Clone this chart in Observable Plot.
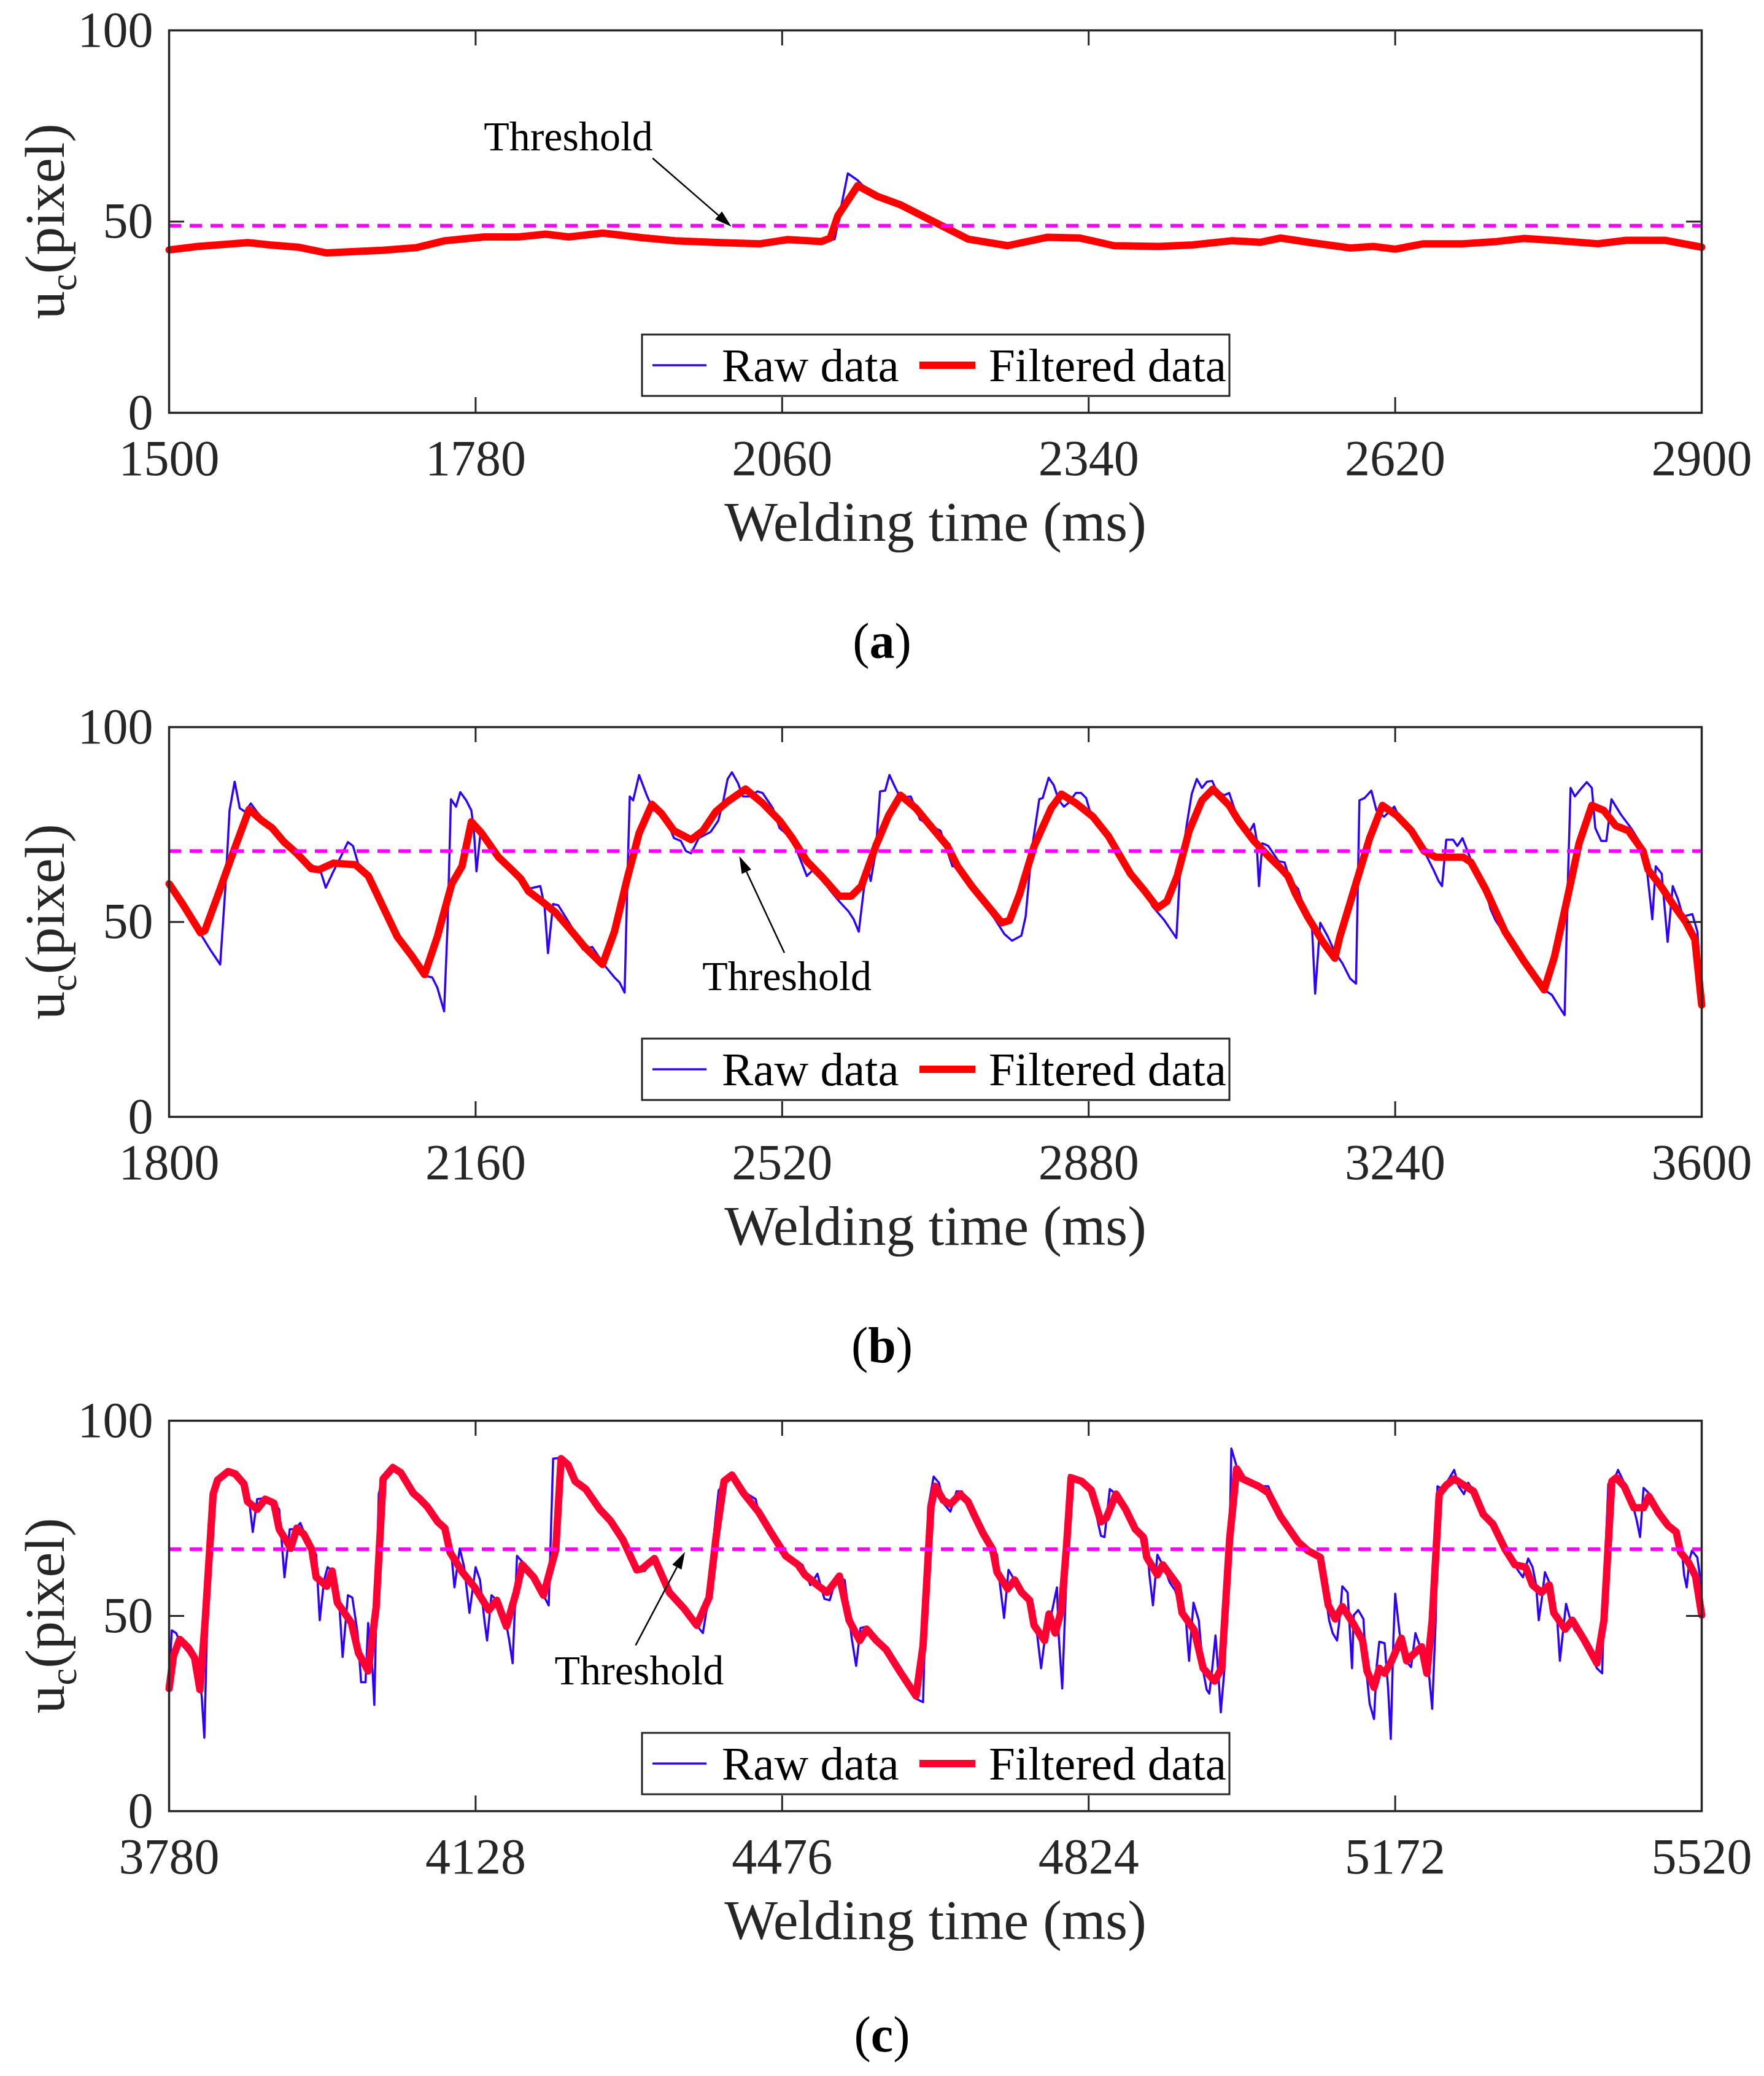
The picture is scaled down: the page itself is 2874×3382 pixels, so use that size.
<!DOCTYPE html>
<html><head><meta charset="utf-8">
<script src="https://cdn.jsdelivr.net/npm/d3@7"></script>
<script src="https://cdn.jsdelivr.net/npm/@observablehq/plot@0.6"></script>
<style>
body{margin:0;background:#fff;}
#page{position:relative;width:2874px;height:3382px;background:#fff;overflow:hidden;}
</style></head><body><div id="page"></div>
<script>
const FONT = "'Liberation Serif','Times New Roman',Times,serif";
const INK = "#262626";
const RAW_COLOR = "#2f00ff";
const THRESH_COLOR = "#ff00ff";

// ---------- Panel (a) ----------
const ticksA = [1500, 1780, 2060, 2340, 2620, 2900];
const thresholdA = 48.9;
const filtA = [[1500,42.6],[1526,43.5],[1572,44.5],[1592,43.9],[1618,43.3],[1644,41.8],[1664,42.1],[1695,42.5],[1726,43.2],[1752,45.0],[1788,46.0],[1819,46.0],[1844,46.7],[1865,46.0],[1896,47.0],[1932,45.8],[1962,45.0],[2004,44.5],[2040,44.2],[2065,45.3],[2096,44.8],[2104,45.7],[2111,51.6],[2129,59.4],[2147,56.6],[2168,54.4],[2199,49.9],[2230,45.4],[2266,43.7],[2302,45.9],[2332,45.7],[2363,43.7],[2404,43.5],[2435,43.9],[2471,45.0],[2497,44.6],[2515,45.7],[2543,44.5],[2579,43.1],[2600,43.5],[2620,42.8],[2646,44.2],[2682,44.2],[2713,44.8],[2738,45.6],[2764,45.1],[2805,44.2],[2831,45.1],[2867,45.1],[2900,43.3]];
const rawA = [[1500,42.9],[1526,43.3],[1572,44.7],[1592,43.7],[1618,43.5],[1644,41.5],[1664,42.3],[1695,42.3],[1726,43.5],[1752,44.8],[1788,46.2],[1819,45.8],[1844,46.9],[1865,45.8],[1896,47.2],[1932,45.6],[1962,45.2],[2004,44.3],[2040,44.4],[2065,45.1],[2096,45.0],[2108,45.4],[2120,62.6],[2129,60.8],[2140,57.6],[2147,56.4],[2168,54.6],[2199,49.7],[2230,45.6],[2266,43.5],[2302,46.1],[2332,45.5],[2363,43.9],[2404,43.3],[2435,44.1],[2471,44.8],[2497,44.8],[2515,45.5],[2543,44.7],[2579,42.9],[2600,43.7],[2620,42.6],[2646,44.4],[2682,44.0],[2713,45.0],[2738,45.4],[2764,45.3],[2805,44.0],[2831,45.3],[2867,44.9],[2900,43.5]];
const annA = {text: [1865, 68.5], from: [1942, 66.5], to: [2014, 48.6]};

// ---------- Panel (b) ----------
const ticksB = [1800, 2160, 2520, 2880, 3240, 3600];
const thresholdB = 68.2;
const filtB = [[1800,59.8],[1816,54.6],[1837,47.2],[1842,47.8],[1860,58.5],[1877,68.9],[1894,78.9],[1909,76.0],[1921,74.1],[1935,70.5],[1950,67.6],[1967,63.7],[1976,63.4],[1993,65.1],[2019,64.7],[2034,61.8],[2051,54.0],[2068,46.2],[2086,41.0],[2100,36.5],[2115,46.2],[2132,59.8],[2144,64.3],[2155,75.7],[2167,72.8],[2187,66.6],[2201,63.7],[2213,61.1],[2222,57.9],[2236,55.6],[2254,52.4],[2271,48.1],[2288,43.6],[2309,39.1],[2323,47.5],[2338,61.1],[2352,72.8],[2367,80.2],[2378,77.9],[2393,73.4],[2413,71.1],[2427,73.4],[2442,78.3],[2456,80.9],[2477,84.1],[2497,80.5],[2517,76.0],[2532,71.5],[2549,65.6],[2566,61.8],[2587,56.6],[2601,56.6],[2613,59.2],[2630,69.5],[2645,77.3],[2659,82.5],[2677,79.2],[2694,74.7],[2714,69.5],[2726,64.3],[2743,59.1],[2761,54.3],[2778,49.8],[2787,50.4],[2799,57.2],[2816,69.5],[2836,79.2],[2848,82.8],[2865,80.5],[2885,77.0],[2903,72.1],[2929,62.4],[2946,57.9],[2961,53.6],[2972,55.3],[2984,61.8],[2998,73.4],[3013,81.2],[3026,84.1],[3045,79.9],[3056,76.0],[3074,70.8],[3091,66.9],[3106,63.7],[3114,61.8],[3123,57.2],[3137,51.4],[3155,44.9],[3169,40.7],[3175,46.2],[3192,58.5],[3210,71.5],[3225,79.9],[3242,77.3],[3259,73.4],[3274,68.2],[3288,66.6],[3320,66.6],[3329,65.3],[3346,58.5],[3369,47.5],[3392,39.7],[3415,32.6],[3427,41.0],[3442,55.9],[3456,70.2],[3471,79.9],[3485,78.6],[3499,74.7],[3514,73.4],[3531,68.2],[3537,63.4],[3552,59.2],[3566,54.6],[3581,50.1],[3592,45.5],[3600,28.7]];
const rawB = [[1800,59.8],[1819,54.0],[1839,46.2],[1848,43.0],[1860,39.1],[1866,58.5],[1871,78.6],[1877,86.0],[1883,79.2],[1889,78.3],[1896,80.4],[1903,78.3],[1912,76.0],[1921,74.1],[1935,70.8],[1952,66.9],[1967,64.7],[1978,63.0],[1984,58.8],[1993,63.0],[2002,66.9],[2010,70.5],[2016,69.5],[2022,65.0],[2034,61.5],[2051,52.7],[2068,46.2],[2086,41.0],[2100,36.2],[2109,35.8],[2115,33.2],[2123,27.1],[2127,48.8],[2131,81.5],[2137,79.6],[2142,83.3],[2149,81.2],[2155,78.6],[2158,73.4],[2161,63.0],[2166,73.4],[2173,70.8],[2187,66.4],[2201,63.7],[2213,61.1],[2222,58.5],[2236,59.2],[2241,54.0],[2245,42.0],[2251,54.6],[2257,54.3],[2271,49.4],[2286,43.0],[2297,43.6],[2312,38.7],[2323,35.8],[2329,34.5],[2335,31.9],[2338,58.5],[2341,82.2],[2345,81.2],[2352,87.7],[2361,82.5],[2369,78.6],[2381,77.9],[2393,71.5],[2401,70.8],[2407,68.2],[2413,67.6],[2422,71.5],[2436,73.1],[2445,76.0],[2451,81.2],[2456,86.7],[2461,88.4],[2468,85.7],[2474,82.2],[2482,82.2],[2491,83.5],[2497,83.1],[2509,79.2],[2517,74.1],[2532,71.3],[2549,61.8],[2558,63.7],[2566,61.1],[2575,58.5],[2587,55.3],[2598,52.7],[2604,50.7],[2610,47.5],[2616,58.5],[2621,63.7],[2624,60.5],[2630,68.2],[2635,83.5],[2641,83.7],[2646,87.7],[2653,84.4],[2659,81.8],[2671,82.2],[2682,76.3],[2694,74.7],[2706,73.4],[2720,64.3],[2729,64.3],[2741,59.8],[2755,55.3],[2770,50.7],[2781,46.9],[2790,45.2],[2801,46.5],[2806,51.4],[2813,68.2],[2822,81.5],[2826,81.8],[2833,87.0],[2839,85.1],[2845,81.2],[2851,79.6],[2856,80.5],[2865,83.1],[2871,83.1],[2877,81.8],[2883,77.3],[2906,70.2],[2926,63.0],[2938,60.8],[2943,59.2],[2955,54.0],[2969,50.4],[2978,47.5],[2983,45.9],[2987,61.8],[2995,74.7],[3001,82.8],[3007,86.7],[3013,84.4],[3019,86.0],[3025,86.2],[3030,83.8],[3039,82.5],[3045,83.1],[3053,77.9],[3068,72.8],[3074,75.2],[3077,71.5],[3080,59.2],[3084,70.2],[3091,69.5],[3103,65.6],[3110,65.3],[3117,60.5],[3126,58.5],[3137,50.7],[3142,50.1],[3146,31.6],[3152,49.8],[3161,46.2],[3169,42.3],[3178,39.4],[3187,35.5],[3194,34.2],[3198,81.2],[3204,81.8],[3212,83.7],[3218,78.6],[3227,77.0],[3239,79.6],[3248,75.3],[3259,73.4],[3274,68.2],[3285,63.4],[3291,60.5],[3295,59.2],[3300,71.1],[3308,71.1],[3313,69.5],[3319,71.5],[3326,67.6],[3334,63.0],[3346,58.5],[3352,53.3],[3358,50.4],[3369,46.8],[3392,39.1],[3415,32.6],[3424,31.3],[3433,28.1],[3439,26.1],[3443,61.8],[3446,84.4],[3451,82.2],[3459,84.4],[3465,85.9],[3471,84.4],[3475,74.1],[3482,70.8],[3488,70.8],[3494,81.5],[3505,77.6],[3517,74.1],[3528,70.2],[3536,62.7],[3542,50.7],[3546,64.3],[3553,62.4],[3560,44.9],[3566,59.2],[3572,55.9],[3578,51.4],[3589,52.0],[3595,47.5],[3600,28.7]];
const annB = {text: [2526, 32.4], from: [2523, 42.0], to: [2470, 66.8]};

// ---------- Panel (c) ----------
const ticksC = [3780, 4128, 4476, 4824, 5172, 5520];
const thresholdC = 67.1;
const filtC = [[3780,31.4],[3785,39.8],[3792,44.0],[3802,41.8],[3809,39.2],[3815,31.1],[3821,48.9],[3830,81.2],[3835,84.8],[3847,87.0],[3855,86.4],[3865,83.8],[3869,79.3],[3880,77.3],[3889,79.9],[3899,78.9],[3905,72.2],[3914,68.9],[3918,67.3],[3925,72.5],[3933,70.9],[3942,67.0],[3947,59.9],[3959,57.6],[3965,61.5],[3971,53.4],[3987,48.2],[3995,40.5],[4006,35.9],[4015,52.1],[4023,85.1],[4034,88.0],[4043,86.7],[4057,81.5],[4065,79.9],[4073,78.0],[4085,74.1],[4093,72.5],[4099,66.3],[4113,61.2],[4127,57.3],[4143,51.5],[4152,54.0],[4163,47.3],[4174,56.0],[4181,63.1],[4194,59.9],[4205,55.3],[4219,67.0],[4225,90.3],[4233,88.7],[4241,84.5],[4253,82.5],[4269,77.3],[4281,74.4],[4295,69.6],[4311,61.8],[4317,62.1],[4331,64.7],[4348,56.0],[4365,51.8],[4379,47.6],[4393,54.7],[4401,70.2],[4410,84.5],[4419,86.1],[4432,81.5],[4449,76.7],[4463,71.5],[4480,65.4],[4494,63.1],[4502,60.5],[4516,57.9],[4527,56.0],[4541,60.2],[4552,48.9],[4564,43.7],[4572,46.6],[4583,43.7],[4594,41.4],[4611,35.3],[4628,29.5],[4636,42.4],[4645,78.0],[4650,83.2],[4659,79.6],[4667,78.6],[4678,81.2],[4687,79.3],[4695,75.4],[4704,71.2],[4715,67.0],[4720,61.2],[4732,56.9],[4740,59.2],[4748,56.0],[4757,54.0],[4762,47.6],[4774,43.7],[4779,50.5],[4786,45.6],[4793,51.5],[4799,68.3],[4804,85.4],[4816,84.5],[4827,82.2],[4838,74.1],[4844,75.1],[4855,81.2],[4866,77.3],[4877,72.2],[4886,70.2],[4890,65.0],[4902,60.5],[4908,63.1],[4925,57.9],[4930,50.8],[4944,46.3],[4954,36.6],[4967,33.3],[4975,36.6],[4984,69.6],[4992,87.7],[4999,85.1],[5017,83.2],[5028,81.5],[5042,75.4],[5062,68.9],[5073,66.7],[5087,65.0],[5096,52.8],[5104,49.2],[5112,52.4],[5124,48.2],[5135,43.7],[5140,35.9],[5148,31.7],[5154,36.6],[5160,35.3],[5168,38.5],[5179,44.3],[5185,38.5],[5194,40.5],[5202,42.1],[5208,35.3],[5214,48.9],[5222,81.2],[5230,83.5],[5239,85.1],[5250,83.5],[5261,81.9],[5272,76.0],[5283,73.5],[5297,67.0],[5308,63.1],[5320,62.5],[5328,57.9],[5338,56.0],[5347,57.9],[5352,50.8],[5365,46.6],[5373,48.9],[5387,43.7],[5401,37.9],[5409,48.9],[5418,84.5],[5423,85.4],[5432,83.2],[5443,77.7],[5454,77.7],[5460,80.6],[5471,76.4],[5482,73.1],[5491,71.5],[5496,66.3],[5505,63.7],[5513,60.2],[5520,50.2]];
const rawC = [[3780,32.7],[3783,46.3],[3788,45.6],[3793,43.0],[3805,39.8],[3813,35.9],[3817,29.5],[3820,18.8],[3824,55.3],[3828,80.6],[3833,83.8],[3844,87.0],[3858,86.4],[3866,83.2],[3871,79.3],[3875,71.5],[3880,79.9],[3889,80.2],[3899,79.3],[3905,77.3],[3911,59.9],[3917,72.2],[3923,72.2],[3929,73.8],[3933,71.5],[3940,68.3],[3947,65.7],[3951,48.9],[3956,59.2],[3960,62.5],[3967,61.2],[3973,54.0],[3977,39.5],[3983,55.3],[3988,54.7],[3994,45.6],[3998,33.0],[4003,33.0],[4006,48.2],[4011,35.9],[4013,27.2],[4018,81.2],[4023,85.7],[4034,88.0],[4043,86.7],[4057,81.9],[4068,79.9],[4082,74.7],[4097,71.5],[4100,67.0],[4104,57.3],[4110,67.3],[4115,62.5],[4121,50.8],[4128,62.5],[4133,59.2],[4138,48.9],[4141,43.7],[4146,55.3],[4152,54.0],[4162,48.9],[4166,44.0],[4170,37.9],[4175,65.4],[4183,63.4],[4194,59.2],[4205,55.3],[4211,52.7],[4216,90.3],[4225,90.5],[4233,88.7],[4241,84.5],[4253,82.5],[4269,77.3],[4281,74.7],[4295,69.6],[4311,61.8],[4320,61.5],[4331,64.7],[4348,56.0],[4365,51.5],[4379,47.6],[4386,45.6],[4393,55.3],[4400,74.1],[4404,82.2],[4418,86.4],[4432,81.9],[4446,79.9],[4449,76.7],[4463,71.5],[4474,66.3],[4488,64.4],[4499,63.1],[4508,57.9],[4516,60.8],[4524,54.4],[4530,54.0],[4538,60.2],[4547,59.2],[4555,44.3],[4560,37.2],[4565,46.9],[4572,47.3],[4583,43.7],[4594,41.4],[4611,35.3],[4628,28.8],[4636,27.9],[4642,78.0],[4648,85.7],[4654,84.1],[4660,78.6],[4667,76.7],[4674,81.9],[4680,81.9],[4690,77.3],[4704,71.2],[4715,67.6],[4720,65.7],[4723,58.6],[4728,49.5],[4733,61.8],[4738,59.9],[4746,56.6],[4757,54.0],[4762,51.5],[4766,44.3],[4770,36.6],[4774,43.7],[4782,50.8],[4788,57.3],[4790,45.0],[4794,31.4],[4799,61.8],[4802,86.1],[4816,84.5],[4827,82.5],[4835,73.5],[4838,70.5],[4842,70.2],[4848,82.5],[4855,81.2],[4866,77.3],[4877,72.2],[4886,70.9],[4890,69.6],[4893,60.5],[4897,52.7],[4902,65.7],[4911,61.8],[4916,58.6],[4922,56.6],[4930,51.5],[4934,50.2],[4938,38.5],[4943,53.4],[4949,48.9],[4954,35.9],[4958,31.1],[4961,30.1],[4964,35.9],[4968,45.0],[4971,35.9],[4974,25.3],[4978,35.9],[4984,69.6],[4986,92.9],[4992,88.3],[4998,84.8],[5017,83.2],[5028,83.2],[5042,75.4],[5062,68.3],[5073,66.7],[5087,65.0],[5097,48.9],[5101,45.6],[5106,43.7],[5109,49.5],[5112,57.6],[5118,56.0],[5123,36.6],[5125,50.2],[5130,51.5],[5136,49.2],[5139,36.6],[5143,27.5],[5148,23.6],[5151,37.2],[5154,43.4],[5160,43.0],[5164,31.4],[5167,18.5],[5170,44.3],[5172,55.7],[5177,45.6],[5184,38.5],[5190,36.9],[5195,45.6],[5202,41.1],[5210,35.9],[5214,26.2],[5218,48.9],[5220,83.2],[5226,82.5],[5233,85.1],[5239,87.4],[5244,83.2],[5250,81.2],[5255,84.1],[5261,81.9],[5272,76.0],[5283,73.5],[5297,67.6],[5311,61.8],[5317,59.9],[5323,64.7],[5328,62.5],[5332,57.9],[5335,48.9],[5339,55.3],[5342,61.2],[5347,58.6],[5352,51.5],[5356,48.9],[5359,38.5],[5363,46.9],[5366,53.1],[5371,48.9],[5376,46.3],[5387,43.7],[5401,36.6],[5407,35.3],[5410,61.8],[5414,83.8],[5420,84.5],[5425,87.4],[5432,84.1],[5440,79.9],[5446,74.7],[5450,70.2],[5454,82.8],[5461,81.2],[5471,76.4],[5482,73.1],[5491,71.5],[5495,68.9],[5498,65.7],[5500,60.5],[5503,57.3],[5506,64.4],[5509,66.7],[5515,65.0],[5519,58.6],[5520,50.2]];
const annC = {text: [4314, 32.4], from: [4310, 42.4], to: [4366, 66.3]};

const yTicks = [0, 50, 100];
const xLabel = "Welding time (ms)";
const legendLabels = ["Raw data", "Filtered data"];
const annLabel = "Threshold";

const page = document.getElementById("page");

function panel(cfg) {
  const W = 2874, mL = 275, mR = 102;
  const {top, height, mTop, mBottom, ticks, raw, filt, threshold, filtColor, ann, letter, capOffset} = cfg;
  const plotW = W - mL - mR, plotH = height - mTop - mBottom;
  const inner = ticks.slice(1, -1);
  const plot = Plot.plot({
    width: W, height,
    marginLeft: mL, marginRight: mR, marginTop: mTop, marginBottom: mBottom,
    style: {fontFamily: FONT, fontSize: "82px", color: INK, background: "white", overflow: "visible"},
    x: {domain: [ticks[0], ticks[ticks.length - 1]], ticks, tickSize: 0, tickPadding: 43, label: null, tickFormat: d => String(d)},
    y: {domain: [0, 100], ticks: yTicks, tickSize: 0, tickPadding: 26, label: null, tickFormat: d => String(d)},
    marks: [
      Plot.line(raw, {x: d => d[0], y: d => d[1], stroke: RAW_COLOR, strokeWidth: 3.5}),
      Plot.line(filt, {x: d => d[0], y: d => d[1], stroke: filtColor, strokeWidth: 12}),
      Plot.ruleY([threshold], {stroke: THRESH_COLOR, strokeWidth: 6, strokeDasharray: "20,14"}),
      Plot.ruleX(inner, {stroke: INK, strokeWidth: 3, insetTop: plotH - 25}),
      Plot.ruleX(inner, {stroke: INK, strokeWidth: 3, insetBottom: plotH - 25}),
      Plot.ruleY([50], {stroke: INK, strokeWidth: 3, insetRight: plotW - 25}),
      Plot.ruleY([50], {stroke: INK, strokeWidth: 3, insetLeft: plotW - 25}),
      Plot.frame({stroke: INK, strokeWidth: 3.5}),
      Plot.text([xLabel], {frameAnchor: "bottom", dy: 208, fontSize: 92, fill: INK, text: d => d})
    ]
  });
  plot.style.position = "absolute";
  plot.style.left = "0px";
  plot.style.top = top + "px";
  page.appendChild(plot);

  const xs = plot.scale("x"), ys = plot.scale("y");
  const fx = xs.apply ? xs.apply : d3.scaleLinear(xs.domain, xs.range);
  const fy = ys.apply ? ys.apply : d3.scaleLinear(ys.domain, ys.range);
  const svg = d3.select(plot);
  const g = svg.append("g").attr("font-family", FONT).attr("fill", INK);
  const bottom = height - mBottom;

  // y axis label with subscript
  const yl = g.append("text")
    .attr("transform", `translate(104,${mTop + plotH / 2}) rotate(-90)`)
    .attr("text-anchor", "middle").attr("font-size", 92);
  yl.append("tspan").text("u");
  yl.append("tspan").attr("font-size", 62).attr("dy", 20).text("c");
  yl.append("tspan").attr("dy", -20).text("(pixel)");

  // legend
  const lx = 1046, ly = bottom - 127, lw = 957, lh = 100;
  const lg = g.append("g").attr("text-anchor", "start");
  lg.append("rect").attr("x", lx).attr("y", ly).attr("width", lw).attr("height", lh)
    .attr("fill", "white").attr("stroke", INK).attr("stroke-width", 3);
  lg.append("line").attr("x1", lx + 17).attr("x2", lx + 105).attr("y1", ly + 50).attr("y2", ly + 50)
    .attr("stroke", RAW_COLOR).attr("stroke-width", 3.5);
  lg.append("text").attr("text-anchor", "start").attr("x", lx + 130).attr("y", ly + 76).attr("font-size", 77).attr("fill", "#000").text(legendLabels[0]);
  lg.append("line").attr("x1", lx + 452).attr("x2", lx + 543).attr("y1", ly + 50).attr("y2", ly + 50)
    .attr("stroke", filtColor).attr("stroke-width", 12);
  lg.append("text").attr("text-anchor", "start").attr("x", lx + 565).attr("y", ly + 76).attr("font-size", 77).attr("fill", "#000").text(legendLabels[1]);

  // annotation
  g.append("text").attr("x", fx(ann.text[0])).attr("y", fy(ann.text[1]))
    .attr("text-anchor", "middle").attr("font-size", 68).attr("fill", "#000").text(annLabel);
  const x1 = fx(ann.from[0]), y1 = fy(ann.from[1]), x2 = fx(ann.to[0]), y2 = fy(ann.to[1]);
  const dx = x2 - x1, dy = y2 - y1, len = Math.hypot(dx, dy), ux = dx / len, uy = dy / len;
  const L = 28, Hw = 8.5, bx = x2 - ux * L, by = y2 - uy * L;
  g.append("line").attr("x1", x1).attr("y1", y1).attr("x2", bx).attr("y2", by)
    .attr("stroke", "#000").attr("stroke-width", 2.5);
  g.append("path").attr("d", `M${x2},${y2}L${bx - uy * Hw},${by + ux * Hw}L${bx + uy * Hw},${by - ux * Hw}Z`)
    .attr("fill", "#000");

  // caption
  const cap = g.append("text").attr("x", 1437).attr("y", bottom + capOffset)
    .attr("text-anchor", "middle").attr("dy", "0.32em").attr("font-size", 82).attr("fill", "#000");
  cap.append("tspan").text("(");
  cap.append("tspan").attr("font-weight", "bold").text(letter);
  cap.append("tspan").text(")");
}

panel({top: 0, height: 1128, mTop: 49, mBottom: 456, ticks: ticksA, raw: rawA, filt: filtA, threshold: thresholdA, filtColor: "#ff0000", ann: annA, letter: "a", capOffset: 374});
panel({top: 1128, height: 1128, mTop: 56, mBottom: 437, ticks: ticksB, raw: rawB, filt: filtB, threshold: thresholdB, filtColor: "#ff0000", ann: annB, letter: "b", capOffset: 374});
panel({top: 2256, height: 1126, mTop: 58, mBottom: 432, ticks: ticksC, raw: rawC, filt: filtC, threshold: thresholdC, filtColor: "#ff0033", ann: annC, letter: "c", capOffset: 366});
</script>
</body></html>
